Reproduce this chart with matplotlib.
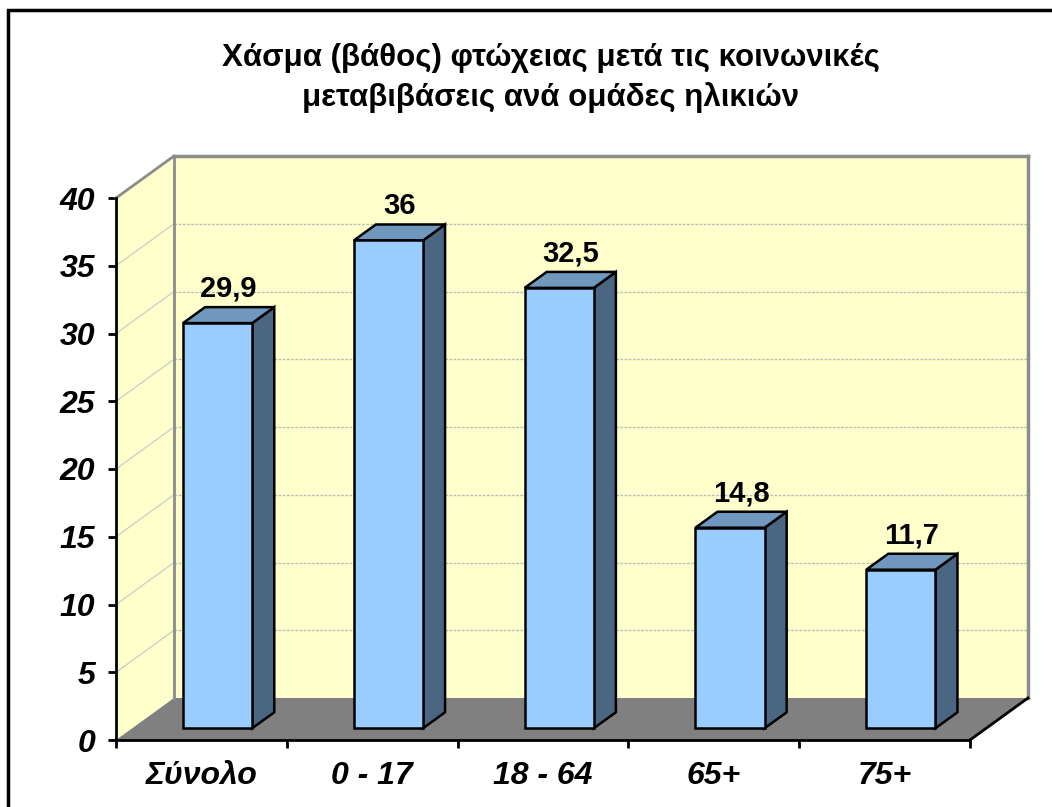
import matplotlib
matplotlib.use("Agg")
import matplotlib.pyplot as plt
from matplotlib.patches import Polygon, Rectangle

plt.rcParams["font.family"] = ["Liberation Sans", "DejaVu Sans"]

categories = ["Σύνολο", "0 - 17", "18 - 64", "65+", "75+"]
values = [29.9, 36, 32.5, 14.8, 11.7]
value_labels = ["29,9", "36", "32,5", "14,8", "11,7"]
y_ticks = [0, 5, 10, 15, 20, 25, 30, 35, 40]

title = "Χάσμα (βάθος) φτώχειας μετά τις κοινωνικές\nμεταβιβάσεις ανά ομάδες ηλικιών"

W, H = 1052, 807
fig = plt.figure(figsize=(W / 100, H / 100), dpi=100)
ax = fig.add_axes([116 / W, 67 / H, 854 / W, 542 / H])
n = len(categories)
xmin, xmax = -0.5, n - 0.5
ymin, ymax = 0, 40
ax.set_xlim(xmin, xmax)
ax.set_ylim(ymin, ymax)
ax.patch.set_visible(False)

# depth of the 3d box, given in pixels and turned into data units
depth_px = (58, 42)
p0 = ax.transData.inverted().transform((0, 0))
p1 = ax.transData.inverted().transform(depth_px)
DX, DY = p1 - p0


def sh(x, y, f=1.0):
    return (x + f * DX, y + f * DY)


def poly(pts, **kw):
    ax.add_patch(Polygon(pts, closed=True, clip_on=False, **kw))


wall = "#FFFFCC"
# back wall and left wall
poly([sh(xmin, ymin), sh(xmax, ymin), sh(xmax, ymax), sh(xmin, ymax)],
     facecolor=wall, edgecolor="none", zorder=1)
poly([(xmin, ymin), sh(xmin, ymin), sh(xmin, ymax), (xmin, ymax)],
     facecolor=wall, edgecolor="none", zorder=1)

# gridlines on both walls
for t in y_ticks[1:-1]:
    ax.plot([sh(xmin, t)[0], sh(xmax, t)[0]], [sh(xmin, t)[1]] * 2,
            color="#BEBEBE", lw=1, ls=(0, (2, 1)), zorder=2, clip_on=False)
    ax.plot([xmin, sh(xmin, t)[0]], [t, sh(xmin, t)[1]],
            color="#D0D0C8", lw=1, zorder=2, clip_on=False)

# floor
poly([(xmin, ymin), (xmax, ymin), sh(xmax, ymin), sh(xmin, ymin)],
     facecolor="#808080", edgecolor="none", zorder=3)

# wall outlines
edge = "#8C8C8C"
ax.plot([sh(xmin, ymin)[0], sh(xmin, ymax)[0]], [sh(xmin, ymin)[1], sh(xmin, ymax)[1]],
        color=edge, lw=2, zorder=3, clip_on=False)
ax.plot([sh(xmin, ymax)[0], sh(xmax, ymax)[0]], [sh(xmin, ymax)[1]] * 2,
        color=edge, lw=2.5, zorder=3, clip_on=False)
ax.plot([sh(xmax, ymin)[0], sh(xmax, ymax)[0]], [sh(xmax, ymin)[1], sh(xmax, ymax)[1]],
        color=edge, lw=2.5, zorder=3, clip_on=False)
ax.plot([xmin, sh(xmin, ymax)[0]], [ymax, sh(xmin, ymax)[1]],
        color=edge, lw=2, zorder=3, clip_on=False)
ax.plot([xmax, sh(xmax, ymin)[0]], [ymin, sh(xmax, ymin)[1]],
        color="black", lw=2, zorder=3, clip_on=False)

# bars sit in the middle of the box depth
f0, f1 = 0.28, 0.66
bw = 0.405
for i, v in enumerate(values):
    x0, x1 = i - bw / 2, i + bw / 2
    fl, fb = sh(x0, 0, f0), sh(x1, 0, f0)
    front = [fl, (fb[0], fl[1]), (fb[0], fl[1] + v), (fl[0], fl[1] + v)]
    top = [front[3], front[2], sh(x1, v, f1), sh(x0, v, f1)]
    side = [front[1], sh(x1, 0, f1), sh(x1, v, f1), front[2]]
    poly(side, facecolor="#4B6682", edgecolor="black", lw=1.8, zorder=5)
    poly(top, facecolor="#7098BF", edgecolor="black", lw=1.8, zorder=5)
    poly(front, facecolor="#99CCFF", edgecolor="black", lw=1.8, zorder=6)
    lx = sh(i, v, (f0 + f1) / 2)[0]
    ly = sh(i, v, f1)[1]
    ax.annotate(value_labels[i], (lx, ly), xytext=(0, 3), textcoords="offset points",
                ha="center", va="bottom", fontsize=21, fontweight="bold", zorder=7)

# axes
for s in ["top", "right"]:
    ax.spines[s].set_visible(False)
ax.spines["left"].set_linewidth(2)
ax.spines["bottom"].set_linewidth(2)
ax.spines["left"].set_zorder(8)
ax.spines["bottom"].set_zorder(8)
ax.set_yticks(y_ticks)
ax.set_yticklabels([str(t) for t in y_ticks])
ax.tick_params(axis="y", direction="out", length=6, width=2, pad=9,
               labelsize=23)
ax.set_xticks(range(n))
ax.set_xticklabels(categories)
ax.set_xticks([i - 0.5 for i in range(n + 1)], minor=True)
ax.tick_params(axis="x", which="major", length=0, pad=15, labelsize=23)
ax.tick_params(axis="x", which="minor", direction="out", length=6, width=2)
for lab in ax.get_xticklabels() + ax.get_yticklabels():
    lab.set_fontweight("bold")
    lab.set_fontstyle("italic")

fig.text(551 / W, 1 - 78 / H, title, ha="center", va="center", fontsize=22.5,
         fontweight="bold", linespacing=1.4)

# chart border
fig.add_artist(Rectangle((8 / W, -0.2), 1.5, 1.2 - 10 / H, transform=fig.transFigure,
                         facecolor="none", edgecolor="black", lw=2.5))

fig.savefig("out.png", dpi=100)
